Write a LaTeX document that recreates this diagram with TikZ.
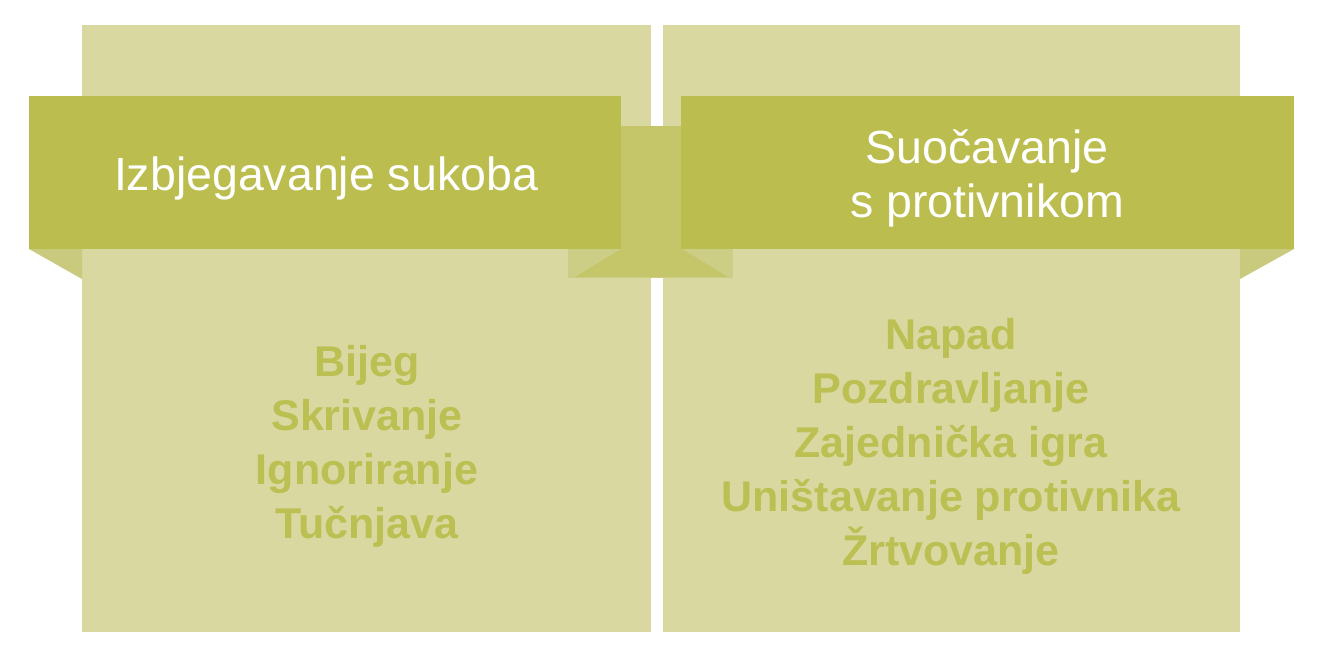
\documentclass[tikz,border=0pt]{standalone}
\usepackage{fontspec}
\setmainfont{Liberation Sans}
\definecolor{panelbg}{HTML}{D9D8A0}
\definecolor{banner}{HTML}{BBBD4E}
\definecolor{joint}{HTML}{C5C56A}
\definecolor{jointlight}{HTML}{CDCE86}
\definecolor{fold}{HTML}{C9CA7D}
\definecolor{itemtxt}{HTML}{BCBF52}
\tikzset{
  panel/.style={fill=panelbg, draw=none},
  bannerbox/.style={fill=banner, draw=none},
  foldshape/.style={fill=fold, draw=none},
  headtxt/.style={text=white, align=center, inner sep=0pt, font=\fontsize{23.25}{27}\selectfont},
  itemlist/.style={text=itemtxt, align=center, inner sep=0pt, font=\bfseries\fontsize{21.5}{27}\selectfont},
}
\begin{document}
\begin{tikzpicture}[x=0.5pt, y=-0.5pt]
\useasboundingbox (0,0) rectangle (1317,650);
% panels
\fill[panel] (82,25) rectangle (651,632);
\fill[panel] (663,25) rectangle (1240,632);
% outer folds
\fill[foldshape] (29,249) -- (82,249) -- (82,279) -- cycle;
\fill[foldshape] (1294,249) -- (1240,249) -- (1240,279) -- cycle;
% central joint
\fill[jointlight] (568,249) rectangle (733,278);
\fill[joint] (621,126) rectangle (682,249);
\fill[joint] (621,249) -- (682,249) -- (728,277) -- (575,277) -- cycle;
% banners
\node[bannerbox, minimum width=296pt, minimum height=76.5pt, inner sep=0pt, anchor=north west] (lb) at (29,96) {};
\node[bannerbox, minimum width=306.5pt, minimum height=76.5pt, inner sep=0pt, anchor=north west] (rb) at (681,96) {};
% headings
\node[headtxt] (lh) at (326,178) {Izbjegavanje sukoba};
\node[headtxt] (rh) at (987,178) {Suočavanje\\s protivnikom};
% lists
\node[itemlist] (ll) at (367,446) {Bijeg\\Skrivanje\\Ignoriranje\\Tučnjava};
\node[itemlist] (rl) at (951,446) {Napad\\Pozdravljanje\\Zajednička igra\\Uništavanje protivnika\\Žrtvovanje};
\end{tikzpicture}
\end{document}
